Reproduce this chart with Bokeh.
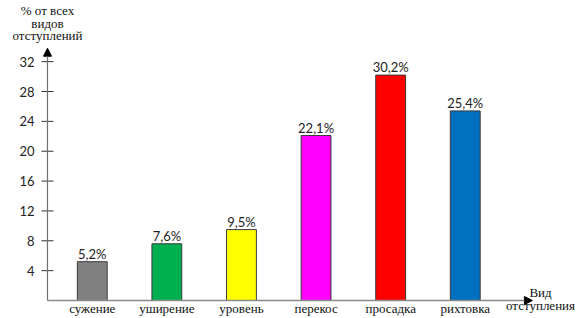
from bokeh.plotting import figure
from bokeh.models import Range1d, Label, Arrow, NormalHead, ColumnDataSource
from bokeh.embed import file_html
from bokeh.resources import INLINE
from bokeh.core.properties import value

categories = ["сужение", "уширение", "уровень", "перекос", "просадка", "рихтовка"]
values = [5.2, 7.6, 9.5, 22.1, 30.2, 25.4]
colors = ["#808080", "#00B050", "#FFFF00", "#FF00FF", "#FF0000", "#0070C0"]
y_ticks = [4, 8, 12, 16, 20, 24, 28, 32]
y_title = ["% от всех", "видов", "отступлений"]
x_title = ["Вид", "отступления"]

W, H = 581, 318
# layout of the plotting area (pixels)
AX_LEFT, AX_BOTTOM = 47, 300
SX = 74.6     # pixels per category step
SY = 7.464    # pixels per percent
X0 = -0.6     # data x at the y axis
X1 = 5.90     # data x at the end of the x axis arrow
Y1 = 33.8     # data y at the top of the y axis arrow

def dx(px):
    return X0 + (px - AX_LEFT) / SX

def dy(py):
    return (AX_BOTTOM - py) / SY

xs = list(range(len(categories)))
labels = [f"{v:.1f}%".replace(".", ",") for v in values]
src = ColumnDataSource(dict(x=xs, top=values, color=colors, label=labels,
                            cat=categories, zero=[0] * len(xs)))
tsrc = ColumnDataSource(dict(y=y_ticks, x=[X0] * len(y_ticks), t=[str(t) for t in y_ticks]))

p = figure(width=W, height=H, output_backend="svg", toolbar_location=None,
           x_range=Range1d(dx(0), dx(W)), y_range=Range1d(dy(H), dy(0)),
           x_axis_location=None, y_axis_location=None, min_border=0)
p.outline_line_color = None
p.grid.visible = False

# bars and value labels
p.vbar(x="x", top="top", width=0.4, bottom=0, fill_color="color",
       line_color="#3a3a3a", line_width=1, source=src)
p.text(x="x", y="top", text="label", source=src, text_align="center",
       text_baseline="bottom", y_offset=0, text_font=value("Lato"),
       text_font_size="13px", text_color="#222222")

# category labels
p.text(x="x", y="zero", text="cat", source=src, text_align="center",
       text_baseline="top", y_offset=0, text_font=value("Liberation Serif"),
       text_font_size="13px", text_color="#111111")

# axes
p.add_layout(Arrow(end=NormalHead(size=8, fill_color="black", line_color="black"),
                   x_start=X0, y_start=0, x_end=X0, y_end=Y1,
                   line_color="#707070", line_width=1.2))
p.add_layout(Arrow(end=NormalHead(size=8, fill_color="black", line_color="black"),
                   x_start=X0, y_start=0, x_end=X1, y_end=0,
                   line_color="#8a8a8a", line_width=1.6))

# y ticks and tick labels
p.scatter(x="x", y="y", source=tsrc, marker="dash", size=12,
          line_color="#333333", line_width=1)
p.text(x="x", y="y", text="t", source=tsrc, text_align="right",
       text_baseline="middle", x_offset=-13, text_font=value("Lato"),
       text_font_size="13px", text_color="#222222")

# axis titles
for t, top in zip(y_title, [2, 15, 27]):
    p.add_layout(Label(x=X0, y=dy(top), text=t, text_align="center",
                       text_baseline="top", text_font="Liberation Serif",
                       text_font_size="13px", text_color="#111111"))
for t, top in zip(x_title, [284, 297]):
    p.add_layout(Label(x=dx(540), y=dy(top), text=t, text_align="center",
                       text_baseline="top", text_font="Liberation Serif",
                       text_font_size="13px", text_color="#111111"))

open("out.html", "w").write(file_html(p, INLINE))
